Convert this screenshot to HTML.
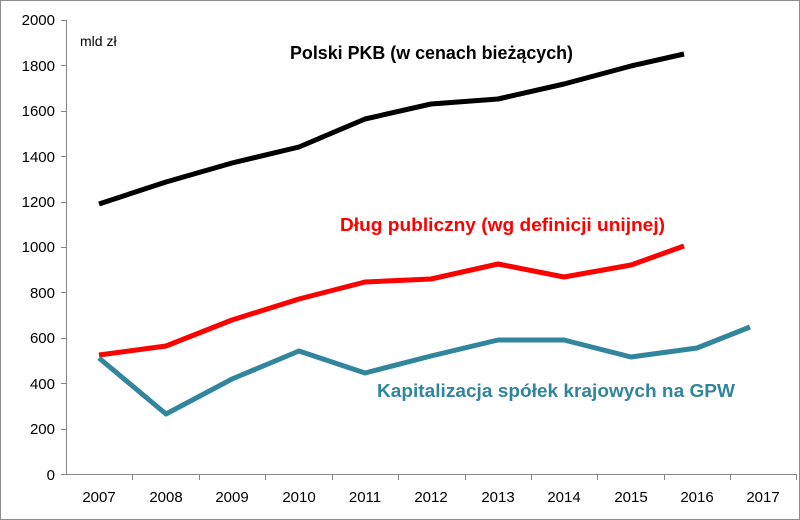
<!DOCTYPE html>
<html><head><meta charset="utf-8"><style>
html,body{margin:0;padding:0;background:#fff}
svg{display:block}
text{font-family:"Liberation Sans",Arial,sans-serif}
</style></head><body>
<svg width="800" height="520" viewBox="0 0 800 520">
<rect x="0.5" y="0.5" width="799" height="519" fill="#fff" stroke="#8c8c8c"/>
<g stroke="#868686" stroke-width="1">
<line x1="66.5" y1="20" x2="66.5" y2="475"/>
<line x1="66" y1="474.5" x2="797" y2="474.5"/>
<line x1="61" y1="20.5" x2="66" y2="20.5"/>
<line x1="61" y1="65.5" x2="66" y2="65.5"/>
<line x1="61" y1="111.5" x2="66" y2="111.5"/>
<line x1="61" y1="156.5" x2="66" y2="156.5"/>
<line x1="61" y1="202.5" x2="66" y2="202.5"/>
<line x1="61" y1="247.5" x2="66" y2="247.5"/>
<line x1="61" y1="292.5" x2="66" y2="292.5"/>
<line x1="61" y1="338.5" x2="66" y2="338.5"/>
<line x1="61" y1="383.5" x2="66" y2="383.5"/>
<line x1="61" y1="429.5" x2="66" y2="429.5"/>
<line x1="61" y1="474.5" x2="66" y2="474.5"/>
<line x1="132.5" y1="474" x2="132.5" y2="480"/>
<line x1="199.5" y1="474" x2="199.5" y2="480"/>
<line x1="265.5" y1="474" x2="265.5" y2="480"/>
<line x1="332.5" y1="474" x2="332.5" y2="480"/>
<line x1="398.5" y1="474" x2="398.5" y2="480"/>
<line x1="465.5" y1="474" x2="465.5" y2="480"/>
<line x1="531.5" y1="474" x2="531.5" y2="480"/>
<line x1="597.5" y1="474" x2="597.5" y2="480"/>
<line x1="664.5" y1="474" x2="664.5" y2="480"/>
<line x1="730.5" y1="474" x2="730.5" y2="480"/>
<line x1="796.5" y1="474" x2="796.5" y2="480"/>
</g>
<g font-size="15" fill="#000" text-anchor="end">
<text x="55" y="25">2000</text><text x="55" y="71">1800</text><text x="55" y="116">1600</text>
<text x="55" y="162">1400</text><text x="55" y="207">1200</text><text x="55" y="252">1000</text>
<text x="55" y="298">800</text><text x="55" y="343">600</text><text x="55" y="389">400</text>
<text x="55" y="434">200</text><text x="55" y="480">0</text>
</g>
<g font-size="15" fill="#000" text-anchor="middle">
<text x="99" y="502">2007</text><text x="166" y="502">2008</text><text x="232" y="502">2009</text>
<text x="299" y="502">2010</text><text x="365" y="502">2011</text><text x="431" y="502">2012</text>
<text x="498" y="502">2013</text><text x="564" y="502">2014</text><text x="631" y="502">2015</text>
<text x="697" y="502">2016</text><text x="763" y="502">2017</text>
</g>
<text x="80" y="46" font-size="14">mld zł</text>
<polyline fill="none" stroke="#000" stroke-width="5" stroke-linejoin="round" points="99,204 166,182 232,163 299,147 365,119 431,104 498,99 564,84 631,66 684,54"/>
<polyline fill="none" stroke="#ff0000" stroke-width="5" stroke-linejoin="round" points="99,355 166,346 232,320 299,299 365,282 431,279 498,264 564,277 631,265 684,246"/>
<polyline fill="none" stroke="#31859c" stroke-width="5" stroke-linejoin="round" points="99,358 166,414 232,379 299,351 365,373 431,356 498,340 564,340 631,357 697,348 750,327"/>
<text x="290" y="59" font-size="18" font-weight="bold" fill="#000" textLength="283" lengthAdjust="spacingAndGlyphs">Polski PKB (w cenach bieżących)</text>
<text x="340" y="231" font-size="18" font-weight="bold" fill="#ff0000" textLength="325" lengthAdjust="spacingAndGlyphs">Dług publiczny (wg definicji unijnej)</text>
<text x="377" y="397" font-size="18" font-weight="bold" fill="#31859c" textLength="358" lengthAdjust="spacingAndGlyphs">Kapitalizacja spółek krajowych na GPW</text>
</svg>
</body></html>
